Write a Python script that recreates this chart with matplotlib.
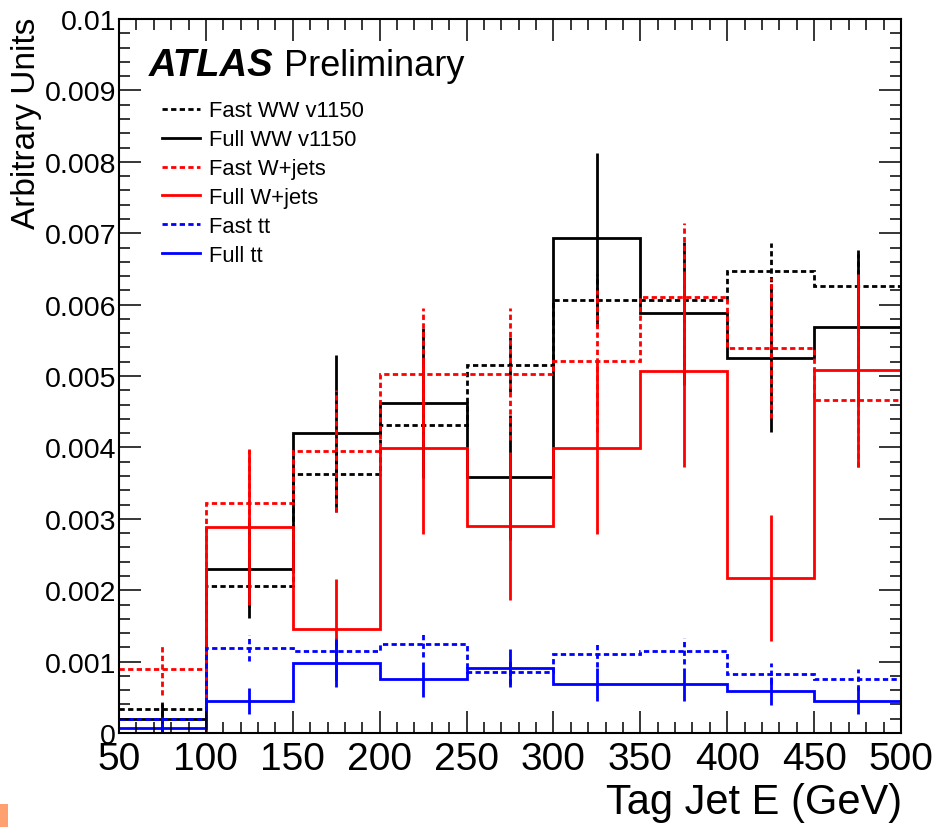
import numpy as np
import matplotlib
matplotlib.use("Agg")
import matplotlib.pyplot as plt
from matplotlib.lines import Line2D
from matplotlib.patches import Rectangle
from matplotlib.ticker import MultipleLocator, FixedLocator, FixedFormatter

plt.rcParams['font.family'] = ['Liberation Sans', 'DejaVu Sans']

# Tag jet energy binning (GeV)
bin_edges = [50, 100, 150, 200, 250, 300, 350, 400, 450, 500]

# Normalised distributions (arbitrary units) and their per-bin uncertainties
fast_ww = [0.00034, 0.00206, 0.00363, 0.00431, 0.00516, 0.00606, 0.00606, 0.00647, 0.00626]
fast_ww_err = [0.00010, 0.00030, 0.00035, 0.00040, 0.00038, 0.00037, 0.00040, 0.00039, 0.00045]
full_ww = [0.00020, 0.00230, 0.00420, 0.00462, 0.00358, 0.00694, 0.00588, 0.00525, 0.00568]
full_ww_err = [0.00020, 0.00069, 0.00110, 0.00105, 0.00087, 0.00119, 0.00100, 0.00104, 0.00109]
fast_wjets = [0.00089, 0.00322, 0.00395, 0.00503, 0.00503, 0.00521, 0.00611, 0.00539, 0.00466]
fast_wjets_err = [0.00036, 0.00075, 0.00085, 0.00092, 0.00092, 0.00100, 0.00104, 0.00098, 0.00093]
full_wjets = [0.0, 0.00289, 0.00145, 0.00399, 0.00290, 0.00399, 0.00507, 0.00217, 0.00508]
full_wjets_err = [0.0, 0.00109, 0.00071, 0.00120, 0.00103, 0.00120, 0.00134, 0.00088, 0.00135]
fast_tt = [0.00020, 0.00119, 0.00115, 0.00124, 0.00085, 0.00110, 0.00115, 0.00083, 0.00075]
fast_tt_err = [0.00005, 0.00018, 0.00018, 0.00017, 0.00016, 0.00017, 0.00018, 0.00015, 0.00015]
full_tt = [0.00007, 0.00045, 0.00098, 0.00075, 0.00091, 0.00068, 0.00068, 0.00059, 0.00045]
full_tt_err = [0.00007, 0.00018, 0.00033, 0.00025, 0.00026, 0.00023, 0.00023, 0.00020, 0.00019]

labels = ["Fast WW v1150", "Full WW v1150", "Fast W+jets", "Full W+jets", "Fast tt", "Full tt"]
y_ticklabels = ["0", "0.001", "0.002", "0.003", "0.004", "0.005",
                "0.006", "0.007", "0.008", "0.009", "0.01"]
x_ticks = [50, 100, 150, 200, 250, 300, 350, 400, 450, 500]

DASH = (0, (1.9, 1.2))
LW = 2.0

series = [
    (fast_ww, fast_ww_err, "black", DASH),
    (full_ww, full_ww_err, "black", "solid"),
    (fast_wjets, fast_wjets_err, "#ff0000", DASH),
    (full_wjets, full_wjets_err, "#ff0000", "solid"),
    (fast_tt, fast_tt_err, "#0000ff", DASH),
    (full_tt, full_tt_err, "#0000ff", "solid"),
]

fig = plt.figure(figsize=(9.4, 8.28), dpi=100)
ax = fig.add_axes([0.1266, 0.1135, 0.8319, 0.8623])

edges = np.array(bin_edges, dtype=float)
centers = 0.5 * (edges[:-1] + edges[1:])

handles = []
for (vals, errs, color, ls), lab in zip(series, labels):
    vals = np.asarray(vals)
    errs = np.asarray(errs)
    ax.stairs(vals, edges, baseline=None, color=color, linestyle=ls, linewidth=LW)
    mask = errs > 0
    ax.vlines(centers[mask], (vals - errs)[mask], (vals + errs)[mask],
              colors=color, linestyles=[ls], linewidth=LW)
    handles.append(Line2D([], [], color=color, linestyle=ls, linewidth=LW, label=lab))

ax.set_xlim(50, 500)
ax.set_ylim(0, 0.01)

ax.xaxis.set_major_locator(FixedLocator(x_ticks))
ax.xaxis.set_minor_locator(MultipleLocator(10))
ax.yaxis.set_major_locator(FixedLocator(np.linspace(0, 0.01, len(y_ticklabels))))
ax.yaxis.set_major_formatter(FixedFormatter(y_ticklabels))
ax.yaxis.set_minor_locator(MultipleLocator(0.0002))

ax.tick_params(which="both", direction="in", top=True, right=True, width=1.1)
ax.tick_params(which="major", length=15.5)
ax.tick_params(which="minor", length=7.8)
ax.tick_params(axis="x", which="major", labelsize=28, pad=6)
ax.tick_params(axis="y", which="major", labelsize=20.5, pad=2)
for s in ax.spines.values():
    s.set_linewidth(1.5)

# Axis titles, ROOT style: aligned to the far ends of the axes
fig.text(27 / 940, 1 - 18 / 828, "Arbitrary Units", rotation=90,
         ha="center", va="top", fontsize=24)
fig.text(902 / 940, 1 - 803 / 828, "Tag Jet E (GeV)", ha="right", va="center",
         fontsize=30)

# Experiment label
fig.text(149 / 940, 1 - 76 / 828, "ATLAS", fontsize=27.5, fontweight="bold",
         style="italic", va="baseline")
fig.text(284 / 940, 1 - 76 / 828, "Preliminary", fontsize=26, va="baseline")

ax.legend(handles=handles, loc="upper left", bbox_to_anchor=(0.055, 0.886),
          frameon=False, fontsize=15.8, borderpad=0, borderaxespad=0,
          labelspacing=0.36, handlelength=1.75, handletextpad=0.38)

# small page marker at the lower-left corner
fig.patches.append(Rectangle((0, 0), 8 / 940, 23 / 828, transform=fig.transFigure,
                             facecolor="#ffa070", edgecolor="none", figure=fig))

fig.savefig("out.png", dpi=100)
